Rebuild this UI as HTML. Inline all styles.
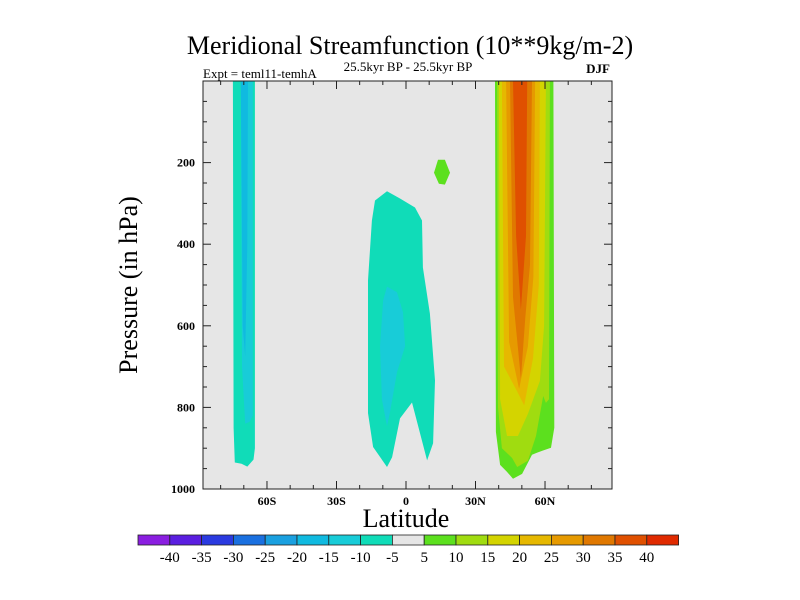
<!DOCTYPE html>
<html><head><meta charset="utf-8">
<style>
html,body{margin:0;padding:0;background:#fff;}
svg{display:block;font-family:"Liberation Serif",serif;}
</style></head>
<body>
<svg id="chart" width="800" height="600" viewBox="0 0 800 600">
  <text x="410" y="54" text-anchor="middle" font-size="26">Meridional Streamfunction (10**9kg/m-2)</text>
  <text x="203" y="78" font-size="13">Expt = teml11-temhA</text>
  <text x="408" y="71" text-anchor="middle" font-size="13">25.5kyr BP - 25.5kyr BP</text>
  <text x="610" y="73" text-anchor="end" font-size="13" font-weight="bold">DJF</text>
  <rect x="203" y="81" width="409" height="408" fill="#e6e6e6"/>
  <g id="contours"></g>
  <rect x="203" y="81" width="409" height="408" fill="none" stroke="#222" stroke-width="1"/>
  <g id="axes"></g>
  <text transform="translate(137,285) rotate(-90)" text-anchor="middle" font-size="26">Pressure (in hPa)</text>
  <text x="406" y="527" text-anchor="middle" font-size="26">Latitude</text>
  <g id="colorbar"></g>
</svg>
<script>
const levelColors = ["#8a1ee0","#5a1ee0","#2a3ae0","#1a70e0","#1aa0e0","#10bae0","#18ccd8","#10dcb8","#e6e6e6","#5ce01e","#a0dc10","#d4d400","#e6b800","#e69a00","#e07800","#e05000","#e02a00"];
const levelLabels = ["-40","-35","-30","-25","-20","-15","-10","-5","5","10","15","20","25","30","35","40"];
const xTickLats = [-60,-30,0,30,60];
const xTickLabels = ["60S","30S","0","30N","60N"];
const yTickValues = [200,400,600,800,1000];
// contour regions: [colorIndex, [[lat,pressure],...]]
const southStripOuter = [[-74.7,0],[-65.2,0],[-65.2,900],[-65.8,928],[-68.5,945],[-71,938],[-73.9,935],[-74.4,850]];
const southStripMid = [[-71.3,0],[-66.1,0],[-66.1,820],[-67.5,835],[-69.4,840],[-70.8,700]];
const southStripInner = [[-71.3,0],[-68.2,0],[-68.5,400],[-69.4,675],[-70.5,600]];
const midBlobOuter = [[-8.2,270],[-2.6,288],[3.9,310],[6.9,342],[7.3,457],[10.3,570],[12.5,734],[11.7,888],[9.1,930],[2.6,788],[-2.6,827],[-6.0,922],[-8.2,946],[-14.2,897],[-16.4,814],[-16.4,489],[-14.7,342],[-13.4,293]];
const midBlobInner = [[-8.2,504],[-3.9,518],[-1.3,567],[-0.4,650],[-3.9,714],[-6.9,812],[-8.2,846],[-10.4,780],[-11.2,650],[-9.9,538]];
const eqDot = [[13.8,193],[16.8,193],[19,225],[16.8,254],[14.2,252],[12.1,225]];
const nhLevel5 = [[38.4,0],[63.6,0],[64,850],[62.6,899],[59,906],[56.5,911],[54.4,916],[50.1,963],[46.2,975],[43.6,958],[40.6,941],[38.8,860]];
const nhLevel10 = [[39.3,0],[62.1,0],[61.7,780],[60.4,789],[59.2,772],[56.1,870],[52.6,931],[48,946],[45.8,924],[41.4,900],[39.7,800]];
const nhLevel15 = [[40.1,0],[60.4,0],[59.6,600],[57.8,735],[52.6,816],[48.3,870],[43.6,870],[40.6,780]];
const nhLevel20 = [[41.4,0],[57.8,0],[57.3,500],[54.8,680],[51,795],[47.9,760],[42.3,700]];
const nhLevel25 = [[43.2,0],[55.7,0],[55,480],[52.6,650],[48.8,755],[44.5,640]];
const nhLevel30 = [[44.9,0],[54.4,0],[53.5,450],[51.5,580],[49.6,730],[46.2,530]];
const nhLevel35 = [[46.2,0],[52.3,0],[51.8,380],[49.6,560],[47.5,380]];
const regions = [[7,southStripOuter],[6,southStripMid],[5,southStripInner],[7,midBlobOuter],[6,midBlobInner],[9,eqDot],[9,nhLevel5],[10,nhLevel10],[11,nhLevel15],[12,nhLevel20],[13,nhLevel25],[14,nhLevel30],[15,nhLevel35]];

const NS="http://www.w3.org/2000/svg";
const xScale = lat => 406 + lat*2.317;
const yScale = p => 81 + p*0.408;
const cont = document.getElementById('contours');
regions.forEach((r,i)=>{
  const poly=document.createElementNS(NS,'polygon');
  poly.setAttribute('points', r[1].map(v=>xScale(v[0]).toFixed(1)+','+yScale(v[1]).toFixed(1)).join(' '));
  poly.setAttribute('fill', levelColors[r[0]]);
  
  
  cont.appendChild(poly);
});
const axes=document.getElementById('axes');
function line(x1,y1,x2,y2){
  const l=document.createElementNS(NS,'line');
  l.setAttribute('x1',x1);l.setAttribute('y1',y1);l.setAttribute('x2',x2);l.setAttribute('y2',y2);
  l.setAttribute('stroke','#222');l.setAttribute('stroke-width','1');
  
  
  axes.appendChild(l);
}
for(let lat=-80;lat<=80;lat+=10){
  const x=xScale(lat); const major = lat%30===0;
  const len = major?8:4;
  line(x,489,x,489-len); line(x,81,x,81+len);
}
for(let p=50;p<=1000;p+=50){
  const y=yScale(p); const major=p%200===0;
  const len=major?8:4;
  line(203,y,203+len,y); line(612,y,612-len,y);
}
xTickLats.forEach((lat,i)=>{
  const t=document.createElementNS(NS,'text');
  t.setAttribute('x',xScale(lat)); t.setAttribute('y',505);
  t.setAttribute('text-anchor','middle'); t.setAttribute('font-size','12'); t.setAttribute('font-weight','bold');
  t.textContent=xTickLabels[i];
  
  
  axes.appendChild(t);
});
yTickValues.forEach(p=>{
  const t=document.createElementNS(NS,'text');
  t.setAttribute('x',195); t.setAttribute('y',yScale(p)+4);
  t.setAttribute('text-anchor','end'); t.setAttribute('font-size','12'); t.setAttribute('font-weight','bold');
  t.textContent=p;
  
  
  axes.appendChild(t);
});
const cb=document.getElementById('colorbar');
const cbX=138, cbW=31.8, cbY=535, cbH=10;
levelColors.forEach((c,i)=>{
  const r=document.createElementNS(NS,'rect');
  r.setAttribute('x',cbX+i*cbW); r.setAttribute('y',cbY); r.setAttribute('width',cbW); r.setAttribute('height',cbH);
  r.setAttribute('fill',c); r.setAttribute('stroke','#222'); r.setAttribute('stroke-width','0.8');
  
  
  cb.appendChild(r);
});
levelLabels.forEach((s,i)=>{
  const t=document.createElementNS(NS,'text');
  t.setAttribute('x',cbX+(i+1)*cbW); t.setAttribute('y',562);
  t.setAttribute('text-anchor','middle'); t.setAttribute('font-size','15');
  t.textContent=s;
  
  
  cb.appendChild(t);
});
</script>
</body></html>
